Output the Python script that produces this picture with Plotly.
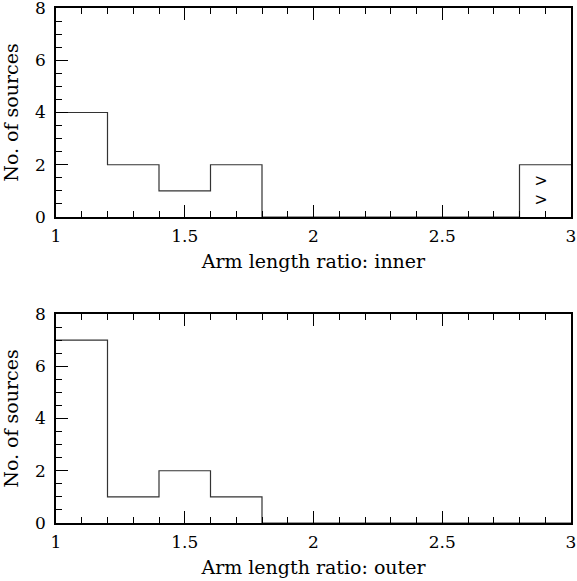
import plotly.graph_objects as go

# ---- data ----
bin_edges = [1.0, 1.2, 1.4, 1.6, 1.8, 2.0, 2.2, 2.4, 2.6, 2.8, 3.0]
inner_counts = [4, 2, 1, 2, 0, 0, 0, 0, 0, 2]
outer_counts = [7, 1, 2, 1, 0, 0, 0, 0, 0, 0]
limit_x = [2.883, 2.883]
limit_y = [0.61, 1.34]
limit_text = [">", ">"]
x_titles = ["Arm length ratio: inner", "Arm length ratio: outer"]
y_title = "No. of sources"

FONT = "DejaVu Serif"
W, H = 577, 581
ml, mr, mt, mb = 56, 6, 8, 58
ph = H - mt - mb
panel = 209

fig = go.Figure()

def step(counts, xa, ya):
    xs = list(bin_edges)
    ys = list(counts) + [counts[-1]]
    fig.add_trace(go.Scatter(x=xs, y=ys, mode="lines", line_shape="hv",
                             line=dict(color="#333", width=1.2),
                             xaxis=xa, yaxis=ya, showlegend=False, hoverinfo="skip"))

step(inner_counts, "x", "y")
step(outer_counts, "x2", "y2")

fig.add_trace(go.Scatter(x=limit_x, y=limit_y, mode="text", text=limit_text,
                         textfont=dict(family=FONT, size=16, color="black"),
                         xaxis="x", yaxis="y", showlegend=False, hoverinfo="skip"))

TICK = dict(ticks="inside", ticklen=12, tickwidth=1.2, tickcolor="black")
def minor(dt, t0):
    return dict(dtick=dt, tick0=t0, ticks="inside", ticklen=6, tickwidth=1.2, tickcolor="black")

def xaxis(title, anchor):
    return dict(range=[1, 3], tickmode="linear", tick0=1, dtick=0.5, **TICK,
                minor=minor(0.1, 1),
                showline=True, linecolor="black", linewidth=1.6, mirror="allticks",
                showgrid=False, zeroline=False, anchor=anchor, automargin=False,
                tickfont=dict(family=FONT, size=17, color="black"),
                ticklabelstandoff=3, ticklabeloverflow="allow",
                title=dict(text=title, font=dict(family=FONT, size=19, color="black"), standoff=9))

def yaxis(domain, anchor):
    return dict(range=[0, 8], tickmode="linear", tick0=0, dtick=2, domain=domain, **TICK,
                minor=minor(0.5, 0),
                showline=True, linecolor="black", linewidth=1.6, mirror=True,
                showgrid=False, zeroline=False, anchor=anchor, automargin=False,
                tickfont=dict(family=FONT, size=17, color="black"),
                ticklabelstandoff=5, ticklabeloverflow="allow",
                title=dict(text=y_title, font=dict(family=FONT, size=19, color="black"), standoff=16))

def yright(domain, anchor, over):
    return dict(range=[0, 8], tickmode="linear", tick0=0, dtick=2, domain=domain, **TICK,
                minor=minor(0.5, 0), overlaying=over, side="right",
                showline=False, showticklabels=False, showgrid=False, zeroline=False,
                anchor=anchor, automargin=False)

top_dom = [1 - panel / ph, 1]
bot_dom = [0, panel / ph]

fig.update_layout(
    width=W, height=H,
    margin=dict(l=ml, r=mr, t=mt, b=mb, autoexpand=False),
    paper_bgcolor="white", plot_bgcolor="white",
    xaxis=xaxis(x_titles[0], "y"),
    yaxis=yaxis(top_dom, "x"),
    xaxis2=xaxis(x_titles[1], "y2"),
    yaxis2=yaxis(bot_dom, "x2"),
    yaxis3=yright(top_dom, "x", "y"),
    yaxis4=yright(bot_dom, "x2", "y2"),
)

fig.write_html("out.html", config={"displayModeBar": False},
               post_script="document.body.style.margin='0';")
